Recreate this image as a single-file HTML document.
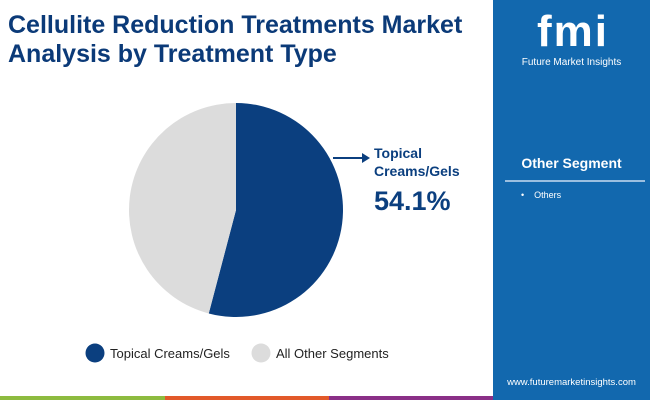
<!DOCTYPE html>
<html><head><meta charset="utf-8"><style>
body{margin:0;width:650px;height:400px;position:relative;overflow:hidden;background:#fff;font-family:"Liberation Sans",sans-serif}
.title{position:absolute;left:8px;top:11px;font-size:25px;font-weight:bold;color:#0b3a78;line-height:29px}
.panel{position:absolute;left:493px;top:0;width:157px;height:400px;background:#1268ae}
.bar{position:absolute;top:396px;height:4px}
</style></head><body>
<div class="title">Cellulite Reduction Treatments Market<br>Analysis by Treatment Type</div>
<svg id="chart" width="493" height="396" style="position:absolute;left:0;top:0"></svg>
<div class="panel">
 <div style="position:absolute;left:25px;top:8px;width:110px;text-align:center;color:#fff;font-weight:bold;font-size:44px;letter-spacing:2px;line-height:48px">fmi</div>
 <div style="position:absolute;left:0;width:157px;top:57px;text-align:center;color:#fff;font-size:10px">Future Market Insights</div>
 <div style="position:absolute;left:0;width:157px;top:155px;text-align:center;color:#fff;font-weight:bold;font-size:14px">Other Segment</div>
 <div style="position:absolute;left:12px;width:140px;top:180px;height:2px;background:#9bbfe0"></div>
 <div style="position:absolute;left:28px;top:190px;color:#fff;font-size:9px">•&nbsp;&nbsp;&nbsp;&nbsp;Others</div>
 <div style="position:absolute;left:0;width:157px;top:377px;text-align:center;color:#fff;font-size:9.5px">www.futuremarketinsights.com</div>
</div>
<div class="bar" style="left:0;width:165px;background:#8dbb3f"></div>
<div class="bar" style="left:165px;width:164px;background:#e2592a"></div>
<div class="bar" style="left:329px;width:164px;background:#8a2f87"></div>
<script>
const categories=["Topical Creams/Gels","All Other Segments"];
const values=[54.1,45.9];
const colors=["#0b3f7f","#dcdcdc"];
const svg=document.getElementById('chart');
const NS="http://www.w3.org/2000/svg";
const cx=236,cy=210,r=107;
const total=values.reduce((a,b)=>a+b,0);
let a0=-Math.PI/2;
values.forEach((v,i)=>{
 const a1=a0+v/total*2*Math.PI;
 const p=document.createElementNS(NS,'path');
 const large=(a1-a0)>Math.PI?1:0;
 p.setAttribute('d',`M${cx},${cy} L${cx+r*Math.cos(a0)},${cy+r*Math.sin(a0)} A${r},${r} 0 ${large} 1 ${cx+r*Math.cos(a1)},${cy+r*Math.sin(a1)} Z`);
 p.setAttribute('fill',colors[i]);
 
 
 svg.appendChild(p);
 a0=a1;
});
const ln=document.createElementNS(NS,'path');
ln.setAttribute('d','M333,158 L362,158');ln.setAttribute('stroke','#0b3f7f');ln.setAttribute('stroke-width','2');


svg.appendChild(ln);
const ah=document.createElementNS(NS,'path');
ah.setAttribute('d','M362,153 L370,158 L362,163 Z');ah.setAttribute('fill','#0b3f7f');


svg.appendChild(ah);
function txt(x,y,s,size,w,fill,name){const t=document.createElementNS(NS,'text');t.setAttribute('x',x);t.setAttribute('y',y);t.setAttribute('font-size',size);t.setAttribute('font-weight',w);t.setAttribute('fill',fill);t.setAttribute('font-family','Liberation Sans, sans-serif');t.textContent=s;


svg.appendChild(t);}
txt(374,158,"Topical",14,"bold","#0b3f7f","annotation-label-1");
txt(374,176,"Creams/Gels",14,"bold","#0b3f7f","annotation-label-2");
txt(374,210,values[0].toFixed(1)+"%",27,"bold","#0b3f7f","annotation-value");
const lx=[95,261];
categories.forEach((c,i)=>{
 const ci=document.createElementNS(NS,'circle');ci.setAttribute('cx',lx[i]);ci.setAttribute('cy',353);ci.setAttribute('r',9.5);ci.setAttribute('fill',colors[i]);
 
 
 svg.appendChild(ci);
 txt(lx[i]+15,358,c,13,"normal","#222","legend-label-"+i);
});
</script>
</body></html>
